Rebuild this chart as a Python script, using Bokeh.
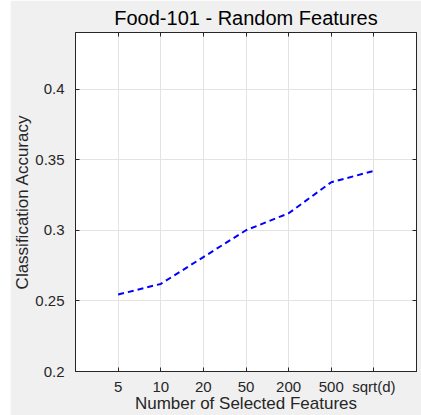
from bokeh.plotting import figure
from bokeh.models import FixedTicker, LinearAxis, Range1d, Spacer
from bokeh.layouts import row
from bokeh.embed import file_html
from bokeh.resources import INLINE

# Data
x_labels = ["5", "10", "20", "50", "200", "500", "sqrt(d)"]
x_pos = [1, 2, 3, 4, 5, 6, 7]
accuracy = [0.2545, 0.262, 0.281, 0.300, 0.312, 0.334, 0.342]
y_ticks = [0.2, 0.25, 0.3, 0.35, 0.4]
y_tick_labels = ["0.2", "0.25", "0.3", "0.35", "0.4"]

FONT = "Liberation Sans"
DARK = "#262626"
BG = "#f0f0f0"

p = figure(width=411, height=415, output_backend="svg", toolbar_location=None,
           x_range=Range1d(0, 8), y_range=Range1d(0.2, 0.44),
           min_border_left=64, min_border_right=5, min_border_top=31, min_border_bottom=43)
p.background_fill_color = "white"
p.border_fill_color = BG
p.outline_line_color = DARK
p.outline_line_width = 1

p.title.text = "Food-101 - Random Features"
p.title.align = "center"
p.title.text_font = FONT
p.title.text_font_size = "20px"
p.title.text_font_style = "normal"
p.title.text_color = "black"
p.title.offset = 0
p.title.standoff = 8

p.line(x_pos, accuracy, line_color="blue", line_width=2, line_dash="6 4")

def style_axis(ax, show_labels=True):
    ax.axis_line_color = DARK
    ax.major_tick_line_color = DARK
    ax.major_tick_in = 4
    ax.major_tick_out = 0
    ax.minor_tick_line_color = None
    ax.major_label_text_font = FONT
    ax.major_label_text_font_size = "15px"
    ax.major_label_text_color = DARK
    ax.axis_label_text_font = FONT
    ax.axis_label_text_font_size = "17px"
    ax.axis_label_text_font_style = "normal"
    ax.axis_label_text_color = DARK
    if not show_labels:
        ax.major_label_text_font_size = "0px"
        ax.major_label_text_color = None

xt = FixedTicker(ticks=x_pos)
yt = FixedTicker(ticks=y_ticks)
p.xaxis.ticker = xt
p.yaxis.ticker = yt
p.xaxis.major_label_overrides = {x: l for x, l in zip(x_pos, x_labels)}
p.yaxis.major_label_overrides = {y: l for y, l in zip(y_ticks, y_tick_labels)}
p.xaxis.axis_label = "Number of Selected Features"
p.yaxis.axis_label = "Classification Accuracy"
style_axis(p.xaxis[0])
style_axis(p.yaxis[0])
p.xaxis.major_label_standoff = 6
p.xaxis.axis_label_standoff = -4
p.yaxis.major_label_standoff = 11
p.yaxis.axis_label_standoff = 0

top = LinearAxis(ticker=FixedTicker(ticks=x_pos))
style_axis(top, show_labels=False)
top.major_label_standoff = 0
p.add_layout(top, "above")
right = LinearAxis(ticker=FixedTicker(ticks=y_ticks))
style_axis(right, show_labels=False)
right.major_label_standoff = 0
p.add_layout(right, "right")

p.xgrid.ticker = xt
p.ygrid.ticker = yt
p.grid.grid_line_color = "#e3e3e3"
p.grid.grid_line_width = 1

layout = row(Spacer(width=10, height=415), p)
open("out.html", "w").write(file_html(layout, INLINE))
